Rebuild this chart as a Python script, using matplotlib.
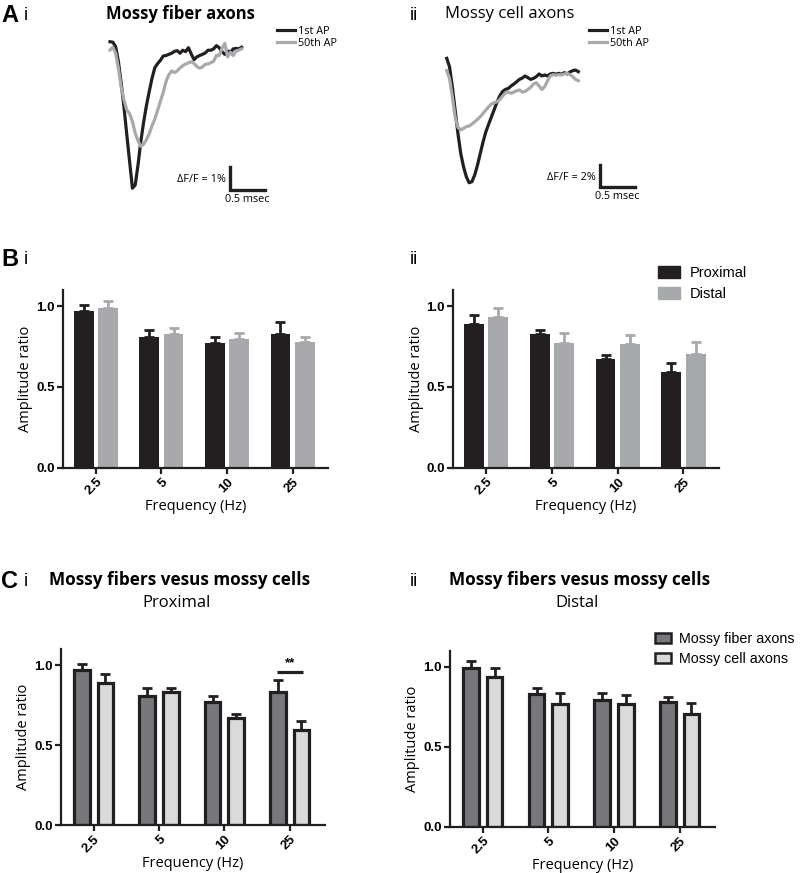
import numpy as np
import matplotlib.pyplot as plt
from matplotlib.patches import Patch

plt.rcParams['font.family'] = ['Open Sans', 'DejaVu Sans']

W, H = 800, 873

# ---- traces (dF/F in %, sampled every dt ms) ----
dt = 0.04
mf_1st = [0.01, -0.01, -0.2, -0.86, -1.8, -2.85, -4.04, -5.2, -6.36, -6.22,
          -5.35, -4.33, -3.49, -2.77, -2.16, -1.58, -1.12, -0.94, -0.8, -0.61,
          -0.59, -0.54, -0.49, -0.41, -0.38, -0.49, -0.36, -0.42, -0.25, -0.52,
          -0.77, -0.65, -0.59, -0.54, -0.48, -0.36, -0.36, -0.3, -0.16, -0.25,
          -0.42, -0.54, -0.39, -0.45, -0.3, -0.28, -0.3, -0.23]
mf_50th = [-0.35, -0.23, -0.49, -1.14, -1.97, -2.52, -2.96, -3.12, -3.46, -3.97,
           -4.3, -4.54, -4.45, -4.25, -3.99, -3.65, -3.35, -2.97, -2.59, -2.19,
           -1.72, -1.43, -1.26, -1.33, -1.26, -1.13, -1.03, -0.96, -0.91, -0.86,
           -0.93, -1.07, -1.14, -1.09, -0.97, -0.96, -0.9, -0.84, -0.59, -0.59,
           -0.28, -0.06, -0.65, -0.45, -0.59, -0.39, -0.36, -0.3]
mc_1st = [1.21, 0.45, -1.36, -3.48, -5.6, -7.42, -8.64, -9.55, -10.1, -10.0,
          -9.39, -8.48, -7.42, -6.36, -5.45, -4.76, -4.09, -3.42, -2.73, -2.18,
          -1.79, -1.61, -1.52, -1.3, -1.12, -0.91, -0.7, -0.58, -0.39, -0.55,
          -0.7, -0.61, -0.45, -0.21, -0.39, -0.3, -0.39, -0.21, -0.15, -0.24,
          -0.15, -0.24, -0.09, -0.21, -0.03, 0.09, 0.15, 0.0]
mc_50th = [0.09, -0.61, -2.27, -4.09, -5.06, -5.3, -5.15, -5.0, -4.94, -4.76,
           -4.55, -4.33, -4.09, -3.79, -3.48, -3.18, -2.94, -2.82, -2.73, -2.52,
           -2.21, -1.91, -1.85, -1.97, -1.85, -1.73, -1.67, -1.85, -1.79, -1.61,
           -1.42, -1.12, -1.0, -1.3, -1.61, -1.36, -0.82, -0.39, -0.27, -0.33,
           -0.27, -0.3, -0.21, -0.15, -0.27, -0.45, -0.7, -0.82]

# ---- amplitude ratio (mean, SEM) ----
freqs = ['2.5', '5', '10', '25']
mf_prox = [0.97, 0.81, 0.77, 0.83]
mf_prox_err = [0.035, 0.045, 0.04, 0.075]
mf_dist = [0.99, 0.83, 0.795, 0.78]
mf_dist_err = [0.043, 0.037, 0.039, 0.032]
mc_prox = [0.89, 0.83, 0.67, 0.595]
mc_prox_err = [0.054, 0.025, 0.028, 0.055]
mc_dist = [0.934, 0.77, 0.768, 0.706]
mc_dist_err = [0.056, 0.064, 0.056, 0.07]

BLACK = '#231f20'
GRAY = '#a7a9ac'
DARK = '#77787b'
LIGHT = '#d9dadc'
TICKFONT = dict(family='Liberation Sans', weight='bold', size=9.5)


def fx(x):
    return x / W


def fy(y):
    return 1 - y / H


fig = plt.figure(figsize=(W / 100, H / 100), dpi=100)


def trace_panel(rect, lim, first, fiftieth, bar_xy, pct, legend_xy):
    ax = fig.add_axes(rect)
    t = np.arange(len(first)) * dt
    ax.plot(t, first, color=BLACK, lw=2.3, label='1st AP')
    ax.plot(t, fiftieth, color=GRAY, lw=2.3, label='50th AP')
    ax.set_xlim(lim[0], lim[1])
    ax.set_ylim(lim[2], lim[3])
    ax.axis('off')
    # scale bar: 0.5 ms x pct %
    x0, y0 = bar_xy
    ax.plot([x0, x0, x0 + 0.5], [y0 + pct, y0, y0], color=BLACK, lw=2.4,
            solid_joinstyle='miter', clip_on=False)
    ax.text(x0 - 0.06, y0 + pct * 0.45, '\u0394F/F = %d%%' % pct, ha='right',
            va='center', fontsize=7.8)
    ax.text(x0 + 0.25, y0 - pct * 0.2, '0.5 msec', ha='center', va='top',
            fontsize=7.8)
    ax.legend(loc='upper left', bbox_to_anchor=legend_xy,
              bbox_transform=fig.transFigure, frameon=False, fontsize=7.8,
              handlelength=1.7, handletextpad=0.2, labelspacing=0.1,
              borderpad=0, borderaxespad=0)
    return ax


trace_panel([fx(100), fy(205), 200 / W, 175 / H], (-0.143, 2.714, -7.09, 0.52),
            mf_1st, mf_50th, (1.714, -6.43), 1, (fx(277), fy(26)))
trace_panel([fx(440), fy(205), 220 / W, 155 / H], (-0.096, 3.047, -12.12, 1.97),
            mc_1st, mc_50th, (2.19, -10.48), 2, (fx(589), fy(26)))


def bar_panel(rect, a, a_err, b, b_err, ca, cb, width, off, edged):
    ax = fig.add_axes(rect)
    x = np.arange(len(freqs))
    for vals, errs, c, sgn in [(a, a_err, ca, -1), (b, b_err, cb, 1)]:
        xs = x + sgn * off
        if edged:
            ax.bar(xs, vals, width, color=c, edgecolor=BLACK, linewidth=2.3,
                   zorder=2)
            ec = BLACK
        else:
            ax.bar(xs, vals, width, color=c, linewidth=0, zorder=2)
            ec = c
        ax.errorbar(xs, vals, yerr=[np.zeros(len(vals)), errs], fmt='none',
                    ecolor=ec, elinewidth=2, capsize=3.8, capthick=2, zorder=1)
    ax.set_xlim(-0.5, 3.54)
    ax.set_ylim(0, 1.1)
    for s in ['top', 'right']:
        ax.spines[s].set_visible(False)
    for s in ['left', 'bottom']:
        ax.spines[s].set_linewidth(1.6)
        ax.spines[s].set_color(BLACK)
    ax.set_yticks([0, 0.5, 1.0])
    ax.set_yticklabels(['0.0', '0.5', '1.0'], fontdict=TICKFONT)
    ax.set_xticks(x)
    ax.set_xticklabels(freqs, fontdict=TICKFONT, rotation=45, ha='right',
                       va='top', rotation_mode='anchor')
    ax.tick_params(width=1.6, length=4, color=BLACK, pad=2)
    ax.set_ylabel('Amplitude ratio', fontsize=10.5, labelpad=2)
    ax.set_xlabel('Frequency (Hz)', fontsize=10.5, labelpad=1)
    return ax


bar_panel([fx(63), fy(467.7), 265 / W, 177.7 / H], mf_prox, mf_prox_err,
          mf_dist, mf_dist_err, BLACK, GRAY, 0.3, 0.185, False)
axb2 = bar_panel([fx(453.3), fy(467.7), 265.7 / W, 177.7 / H], mc_prox,
                 mc_prox_err, mc_dist, mc_dist_err, BLACK, GRAY, 0.3, 0.185,
                 False)
axb2.legend(handles=[Patch(color=BLACK, label='Proximal'),
                     Patch(color=GRAY, label='Distal')],
            loc='upper left', bbox_to_anchor=(fx(658), fy(266)),
            bbox_transform=fig.transFigure, frameon=False,
            prop={'family': 'Liberation Sans', 'size': 10.5},
            handlelength=1.5, handleheight=0.9, handletextpad=0.7,
            labelspacing=0.45, borderpad=0, borderaxespad=0)

axc1 = bar_panel([fx(61), fy(825), 264 / W, 175.7 / H], mf_prox, mf_prox_err,
                 mc_prox, mc_prox_err, DARK, LIGHT, 0.24, 0.18, True)
axc2 = bar_panel([fx(450), fy(826.7), 265 / W, 176 / H], mf_dist, mf_dist_err,
                 mc_dist, mc_dist_err, DARK, LIGHT, 0.24, 0.18, True)
axc2.legend(handles=[Patch(facecolor=DARK, edgecolor=BLACK, lw=1.8,
                           label='Mossy fiber axons'),
                     Patch(facecolor=LIGHT, edgecolor=BLACK, lw=1.8,
                           label='Mossy cell axons')],
            loc='upper left', bbox_to_anchor=(fx(655), fy(632)),
            bbox_transform=fig.transFigure, frameon=False,
            prop={'family': 'Liberation Sans', 'size': 10.3},
            handlelength=1.1, handleheight=0.7, handletextpad=0.6,
            labelspacing=0.45, borderpad=0, borderaxespad=0)

# significance marker at 25 Hz, proximal
axc1.plot([3 - 0.19, 3 + 0.21], [0.956, 0.956], color=BLACK, lw=2.3,
          solid_capstyle='butt')
axc1.text(3.01, 0.975, '**', ha='center', va='bottom',
          fontdict=dict(family='Liberation Sans', weight='bold', size=9.5))

# panel letters and titles
LETTER = dict(family='Liberation Sans', weight='bold', size=17)
ROMAN = dict(family='Liberation Sans', size=13)
for y, letter in [(15, 'A'), (259, 'B'), (581, 'C')]:
    fig.text(fx(1), fy(y), letter, ha='left', va='center', fontdict=LETTER)
    fig.text(fx(24), fy(y), 'i', ha='left', va='center', fontdict=ROMAN)
    fig.text(fx(410), fy(y), 'ii', ha='left', va='center', fontdict=ROMAN)

fig.text(fx(180), fy(14), 'Mossy fiber axons', ha='center', va='center',
         fontsize=12, fontweight='bold')
fig.text(fx(445), fy(14), 'Mossy cell axons', ha='left', va='center',
         fontsize=12)
fig.text(fx(180), fy(580), 'Mossy fibers vesus mossy cells', ha='center',
         va='center', fontsize=12.3, fontweight='bold')
fig.text(fx(177), fy(603), 'Proximal', ha='center', va='center', fontsize=12)
fig.text(fx(580), fy(580), 'Mossy fibers vesus mossy cells', ha='center',
         va='center', fontsize=12.3, fontweight='bold')
fig.text(fx(577), fy(603), 'Distal', ha='center', va='center', fontsize=12)

fig.savefig('out.png', dpi=100)
